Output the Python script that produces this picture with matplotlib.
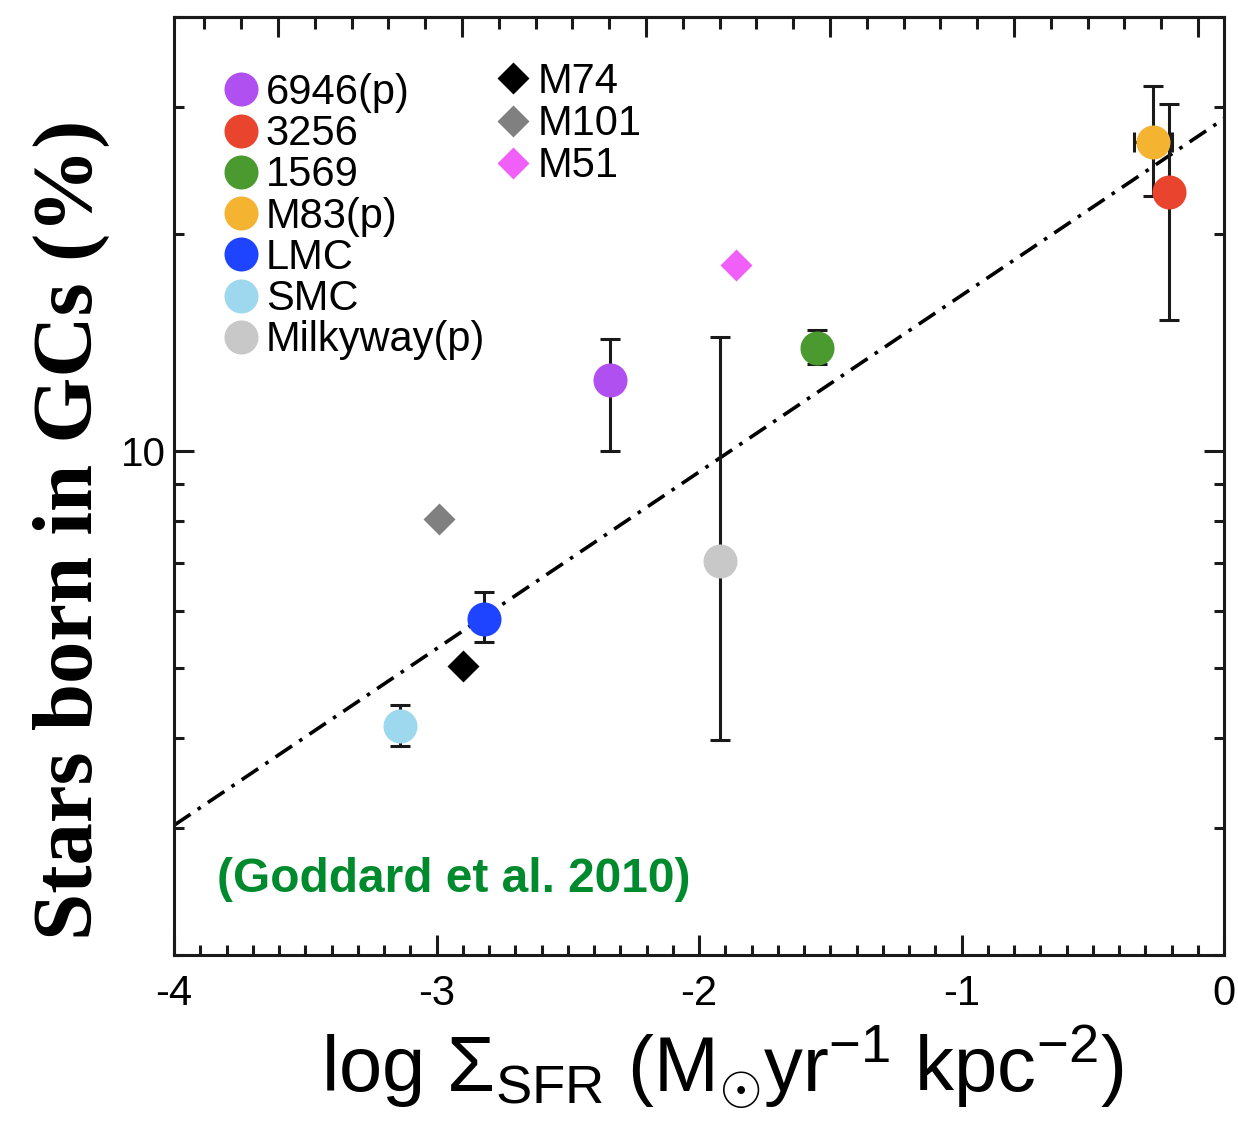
import numpy as np
import matplotlib
matplotlib.use("Agg")
import matplotlib.pyplot as plt
from matplotlib.lines import Line2D
from matplotlib.ticker import FixedLocator, NullFormatter, FixedFormatter

# ---------------- data ----------------
gal_names = ["6946(p)", "3256", "1569", "M83(p)", "LMC", "SMC", "Milkyway(p)"]
gal_x = [-2.34, -0.21, -1.55, -0.27, -2.82, -3.14, -1.92]
gal_y = [12.55, 22.9, 13.9, 26.8, 5.84, 4.15, 7.03]
gal_lo = [10.0, 15.2, 13.2, 22.6, 5.43, 3.90, 3.98]
gal_hi = [14.3, 30.3, 14.7, 32.1, 6.37, 4.44, 14.4]
gal_xerr = [0.0, 0.0, 0.0, 0.072, 0.0, 0.0, 0.0]
gal_colors = ["#b050f0", "#e8442e", "#4a9a30", "#f5b332", "#1e44ff", "#9ed8ee", "#c8c8c8"]

dia_names = ["M74", "M101", "M51"]
dia_x = [-2.90, -2.99, -1.86]
dia_y = [5.03, 8.05, 18.1]
dia_colors = ["#000000", "#808080", "#f060f8"]

fit_norm = 28.9     # Gamma at log Sigma = 0
fit_slope = 0.245

plt.rcParams["mathtext.fontset"] = "custom"
plt.rcParams["mathtext.rm"] = "Liberation Sans"
plt.rcParams["mathtext.it"] = "Liberation Sans"
plt.rcParams["mathtext.sf"] = "Liberation Sans"

W, H = 1238, 1122
fig = plt.figure(figsize=(W / 100, H / 100), dpi=100)
ax = fig.add_axes([174 / W, 1 - 955 / H, 1050 / W, 938 / H])

# fit line
xl = np.array([-4.0, 0.0])
ax.plot(xl, fit_norm * 10 ** (fit_slope * xl), color="black", lw=2.6,
        linestyle=(0, (5.5, 2.4, 1.0, 2.4)), zorder=2)

# galaxies with errorbars
for xi, yi, lo, hi, xe, c in zip(gal_x, gal_y, gal_lo, gal_hi, gal_xerr, gal_colors):
    ax.errorbar([xi], [yi], yerr=[[yi - lo], [hi - yi]],
                xerr=[[xe], [xe]] if xe > 0 else None,
                fmt="none", ecolor="#1a1a1a", elinewidth=2.2, capsize=7.5,
                capthick=2.2, zorder=3)
for xi, yi, c in zip(gal_x, gal_y, gal_colors):
    ax.plot([xi], [yi], "o", ms=24.5, color=c, mec="none", zorder=4)
for xi, yi, c in zip(dia_x, dia_y, dia_colors):
    ax.plot([xi], [yi], "D", ms=16.8, color=c, mec="none", zorder=4)

ax.set_xlim(-4, 0)
ax.set_yscale("log")
ax.set_ylim(2, 40)

# ticks
ax.yaxis.set_major_locator(FixedLocator([10]))
ax.yaxis.set_major_formatter(FixedFormatter(["10"]))
ax.yaxis.set_minor_locator(FixedLocator([2, 3, 4, 5, 6, 7, 8, 9, 20, 30, 40]))
ax.yaxis.set_minor_formatter(NullFormatter())
ax.xaxis.set_major_locator(FixedLocator([-4, -3, -2, -1, 0]))
ax.xaxis.set_minor_locator(FixedLocator(np.round(np.arange(-4, 0.001, 0.1), 2)))
ax.xaxis.set_major_formatter(FixedFormatter(["-4", "-3", "-2", "-1", "0"]))

ax.tick_params(axis="both", which="both", direction="in", width=2.2, color="#1a1a1a")
ax.tick_params(axis="both", which="major", length=14.5)
ax.tick_params(axis="both", which="minor", length=7.5)
ax.tick_params(axis="y", which="both", right=True, left=True)
ax.tick_params(axis="y", labelsize=29, pad=6)
ax.tick_params(axis="x", labelsize=30, pad=14)
for lab in ax.get_yticklabels() + ax.get_xticklabels():
    lab.set_family(["Liberation Sans", "DejaVu Sans"])

# top axis: separate tick scale without labels
top_major = np.array([-3.604, -2.903, -2.202, -1.501, -0.800, -0.099])
top_minor = np.concatenate([top_major[0] - 0.1402 * np.arange(1, 3)] +
                           [m + 0.1402 * np.arange(1, 5) for m in top_major[:-1]])
top = ax.secondary_xaxis("top")
top.xaxis.set_major_locator(FixedLocator(top_major))
top.xaxis.set_minor_locator(FixedLocator(top_minor[(top_minor > -4) & (top_minor < 0)]))
top.tick_params(which="both", direction="in", width=2.2, color="#1a1a1a", labeltop=False)
top.tick_params(which="major", length=14.5)
top.tick_params(which="minor", length=8.5)
top.spines["top"].set_linewidth(2.2)

for s in ax.spines.values():
    s.set_linewidth(2.2)
    s.set_color("#1a1a1a")

# labels
ax.set_ylabel("Stars born in GCs (%)", family=["Liberation Serif", "DejaVu Serif"],
              fontweight="bold", fontsize=61)
ax.yaxis.label.set_va("center")
ax.yaxis.set_label_coords((71 - 174) / 1050, (955 - 530) / 938)

ax.set_xlabel(r"log $\Sigma_{\mathrm{SFR}}$ (M$_{\odot}$yr$^{-1}$ kpc$^{-2}$)",
              family=["Liberation Sans", "DejaVu Sans"],
              fontsize=56)
ax.xaxis.label.set_va("baseline")
ax.xaxis.set_label_coords((722 - 174) / 1050, (955 - 1093) / 938)

ax.text((217 - 174) / 1050, (955 - 880) / 938, "(Goddard et al. 2010)",
        transform=ax.transAxes, color="#008a2e", fontsize=34.5, fontweight="bold",
        family=["Liberation Sans", "DejaVu Sans"], ha="left", va="center")

# legends
h1 = [Line2D([], [], marker="o", ls="none", ms=24.5, color=c, mec="none") for c in gal_colors]
h2 = [Line2D([], [], marker="D", ls="none", ms=16.8, color=c, mec="none") for c in dia_colors]
leg1 = ax.legend(h1, gal_names, loc="upper left",
                 bbox_to_anchor=(222 / W, 1 - 73 / H), bbox_transform=fig.transFigure,
                 frameon=False, borderpad=0, borderaxespad=0, handlelength=0.9,
                 handletextpad=0.15, labelspacing=0.03,
                 prop={"family": ["Liberation Sans", "DejaVu Sans"], "size": 30})
ax.add_artist(leg1)
leg2 = ax.legend(h2, dia_names, loc="upper left",
                 bbox_to_anchor=(494 / W, 1 - 62 / H), bbox_transform=fig.transFigure,
                 frameon=False, borderpad=0, borderaxespad=0, handlelength=0.9,
                 handletextpad=0.15, labelspacing=0.05,
                 prop={"family": ["Liberation Sans", "DejaVu Sans"], "size": 30})

fig.savefig("out.png", dpi=100)
